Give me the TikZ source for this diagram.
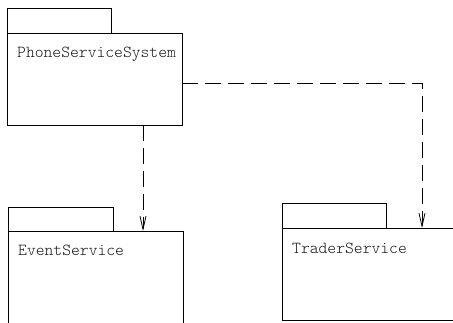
\documentclass[tikz,border=0pt]{standalone}
\usepackage{fontspec}
\setmonofont{Latin Modern Mono Light}
\usepackage{tikz}
\usetikzlibrary{arrows.meta,positioning}
\definecolor{txtgray}{HTML}{1A1A1A}
\tikzset{
  dep/.style={-{Straight Barb[length=13pt,width=6pt]},line width=0.8pt,dash pattern=on 16pt off 7pt},
  pkgbody/.style={draw,line width=0.8pt,anchor=north west,inner sep=0pt,outer sep=0pt},
  pkgtab/.style={draw,line width=0.8pt,anchor=south west,inner sep=0pt,outer sep=0pt,minimum width=104pt,minimum height=25pt},
  pkgname/.style={anchor=base west,inner sep=0pt,font=\ttfamily\fontsize{16.8pt}{18pt}\selectfont,text=txtgray}
}

\begin{document}
\begin{tikzpicture}[x=1pt,y=-1pt]
\clip (0,0) rectangle (453,322);
\fill[white] (0,0) rectangle (453,322);
% packages
\node[pkgbody,minimum width=175pt,minimum height=92pt] (pss) at (7,33) {};
\node[pkgtab] (pssTab) at (pss.north west) {};
\node[pkgname] (pssName) at ([xshift=10pt,yshift=-24pt]pss.north west) {PhoneServiceSystem};
\node[pkgbody,minimum width=175pt,minimum height=100pt] (es) at (8,231) {};
\node[pkgtab,minimum width=105pt,minimum height=24pt] (esTab) at (es.north west) {};
\node[pkgname] (esName) at ([xshift=10pt,yshift=-24pt]es.north west) {EventService};
\node[pkgbody,minimum width=180pt,minimum height=92pt] (ts) at (282,228) {};
\node[pkgtab] (tsTab) at (ts.north west) {};
\node[pkgname] (tsName) at ([xshift=10pt,yshift=-25pt]ts.north west) {TraderService};
% dependencies
\coordinate (d1) at ([xshift=136pt]pss.south west);
\draw[dep] (d1) -- (d1 |- es.north);
\coordinate (d2) at ([yshift=-4pt]pss.east);
\coordinate (bend) at ([xshift=140pt]ts.north west |- d2);
\draw[dep] (d2) -- (bend) -- (bend |- ts.north);
\end{tikzpicture}
\end{document}
